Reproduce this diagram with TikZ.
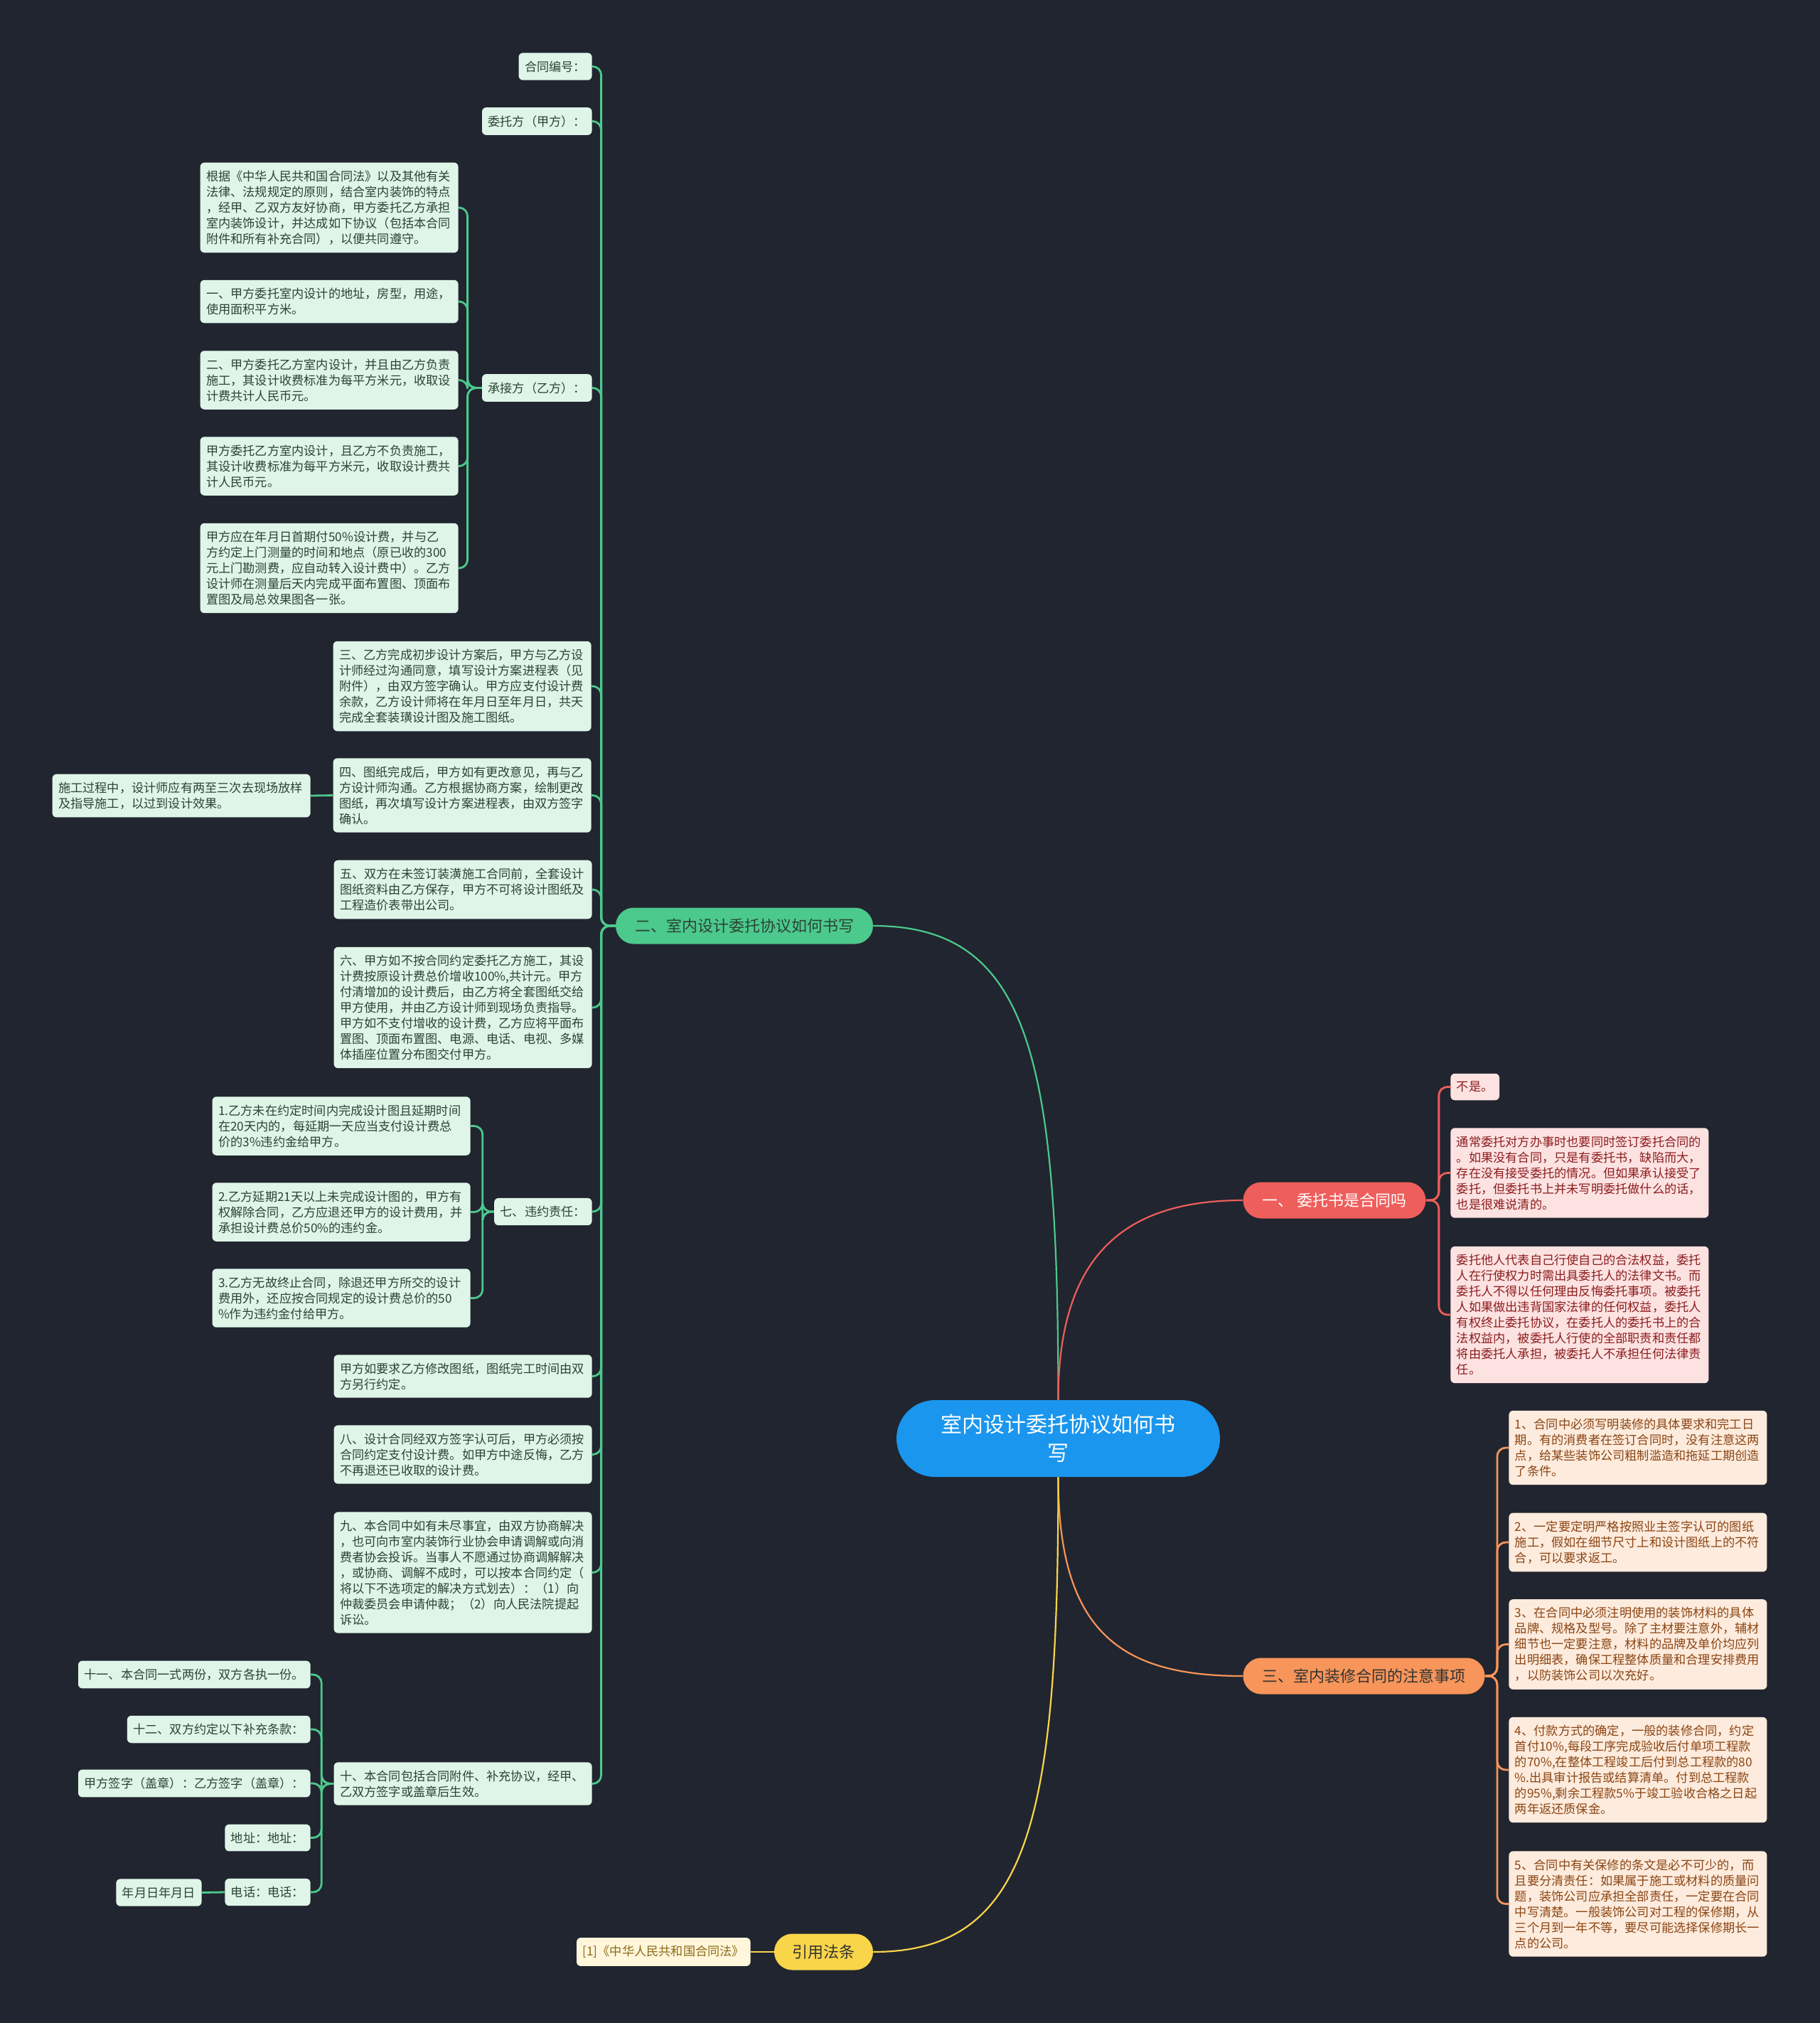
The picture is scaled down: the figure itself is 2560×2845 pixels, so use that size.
\documentclass[tikz,border=0pt]{standalone}
\usepackage{fontspec}
\setmainfont{Noto Sans CJK SC}
\usetikzlibrary{positioning}
\definecolor{bgdark}{HTML}{21252F}
\definecolor{rootblue}{HTML}{1A96EE}
\definecolor{mgreen}{HTML}{4CC98C}
\definecolor{mgreenbg}{HTML}{DFF5E8}
\definecolor{mgreentx}{HTML}{2A4436}
\definecolor{mred}{HTML}{EE5E5B}
\definecolor{mredbg}{HTML}{FDE2E2}
\definecolor{mredtx}{HTML}{8C1D1D}
\definecolor{morange}{HTML}{F7955A}
\definecolor{morangebg}{HTML}{FDEBDD}
\definecolor{morangetx}{HTML}{8B4513}
\definecolor{myellow}{HTML}{F9D54A}
\definecolor{myellowbg}{HTML}{FFF6DC}
\definecolor{myellowtx}{HTML}{8D6A14}
\newcommand\leaffont{\fontsize{8.6}{11}\selectfont}
\tikzset{
  rootnode/.style={fill=rootblue,text=white,rounded corners=27pt,minimum width=227.5pt,
    minimum height=54pt,text width=170pt,align=center,font=\fontsize{15}{20}\selectfont},
  brnode/.style={rounded corners=12.75pt,minimum height=25.5pt,inner xsep=13.5pt,
    font=\fontsize{11}{13}\selectfont},
  brgreen/.style={brnode,fill=mgreen,text=mgreentx},
  brred/.style={brnode,fill=mred,text=white},
  brorange/.style={brnode,fill=morange,text=black!80},
  bryellow/.style={brnode,fill=myellow,text=black!80,inner xsep=12.75pt},
  leaf/.style={rounded corners=3pt,inner xsep=4.25pt,inner ysep=5.6pt,font=\leaffont,align=left},
  wide/.style={text width=173pt},
  gleaf/.style={leaf,fill=mgreenbg,text=mgreentx},
  rleaf/.style={leaf,fill=mredbg,text=mredtx},
  oleaf/.style={leaf,fill=morangebg,text=morangetx},
  yleaf/.style={leaf,fill=myellowbg,text=myellowtx},
  mainlink/.style={line width=1.1pt},
  bracket/.style={line width=1.4pt,rounded corners=6pt},
  glink/.style={bracket,mgreen},
  rlink/.style={bracket,mred},
  olink/.style={bracket,morange},
  ylink/.style={bracket,myellow},
}
\begin{document}
\begin{tikzpicture}[x=0.5pt,y=-0.5pt]
  \fill[bgdark] (0,0) rectangle (2560,2845);
  % centre and main branches
  \node[rootnode] (root) at (1488.5,2023) {室内设计委托协议如何书\\写};
  \node[brgreen] (B2) at (1047,1302) {二、室内设计委托协议如何书写};
  \node[brred] (B1) at (1877,1688) {一、 委托书是合同吗};
  \node[brorange] (B3) at (1918.5,2357) {三、室内装修合同的注意事项};
  \node[bryellow] (B4) at (1158.5,2745) {引用法条};
  \draw[mainlink,mgreen] (root.north) .. controls +(0,-480) and +(220,0) .. (B2.east);
  \draw[mainlink,mred] (root.north) .. controls +(0,-200) and +(-170,0) .. (B1.west);
  \draw[mainlink,morange] (root.south) .. controls +(0,220) and +(-170,0) .. (B3.west);
  \draw[mainlink,myellow] (root.south) .. controls +(0,480) and +(220,0) .. (B4.east);

  % green branch
  \node[gleaf,anchor=east] (gA) at (833,93.5) {合同编号：};
  \node[gleaf,anchor=east] (gB) at (833,170.5) {委托方（甲方）：};
  \node[gleaf,anchor=east] (gC) at (833,545.5) {承接方（乙方）：};
  \node[gleaf,wide,anchor=east] (gD) at (832,965) {三、乙方完成初步设计方案后，甲方与乙方设\\计师经过沟通同意，填写设计方案进程表（见\\附件），由双方签字确认。甲方应支付设计费\\余款，乙方设计师将在年月日至年月日，共天\\完成全套装璜设计图及施工图纸。};
  \node[gleaf,wide,anchor=east] (gE) at (832,1118.5) {四、图纸完成后，甲方如有更改意见，再与乙\\方设计师沟通。乙方根据协商方案，绘制更改\\图纸，再次填写设计方案进程表，由双方签字\\确认。};
  \node[gleaf,wide,anchor=east] (gF) at (833,1251) {五、双方在未签订装潢施工合同前，全套设计\\图纸资料由乙方保存，甲方不可将设计图纸及\\工程造价表带出公司。};
  \node[gleaf,wide,anchor=east] (gG) at (833,1417) {六、甲方如不按合同约定委托乙方施工，其设\\计费按原设计费总价增收100\%,共计元。甲方\\付清增加的设计费后，由乙方将全套图纸交给\\甲方使用，并由乙方设计师到现场负责指导。\\甲方如不支付增收的设计费，乙方应将平面布\\置图、顶面布置图、电源、电话、电视、多媒\\体插座位置分布图交付甲方。};
  \node[gleaf,anchor=east] (gH) at (833,1704) {七、违约责任：};
  \node[gleaf,wide,anchor=east] (gI) at (833,1935.5) {甲方如要求乙方修改图纸，图纸完工时间由双\\方另行约定。};
  \node[gleaf,wide,anchor=east] (gJ) at (833,2045.5) {八、设计合同经双方签字认可后，甲方必须按\\合同约定支付设计费。如甲方中途反悔，乙方\\不再退还已收取的设计费。};
  \node[gleaf,wide,anchor=east] (gK) at (833,2211.5) {九、本合同中如有未尽事宜，由双方协商解决\\，也可向市室内装饰行业协会申请调解或向消\\费者协会投诉。当事人不愿通过协商调解解决\\，或协商、调解不成时，可以按本合同约定（\\将以下不选项定的解决方式划去）：（1）向\\仲裁委员会申请仲裁；（2）向人民法院提起\\诉讼。};
  \node[gleaf,wide,anchor=east] (gL) at (833,2508.5) {十、本合同包括合同附件、补充协议，经甲、\\乙双方签字或盖章后生效。};
  \foreach \k in {gA,gB,gC,gD,gE,gF,gG,gH,gI,gJ,gK,gL}
    \draw[glink] (B2.west) -- ++(-20,0) |- (\k.east);

  % under 承接方
  \node[gleaf,wide,anchor=east] (gC1) at (645,292) {根据《中华人民共和国合同法》以及其他有关\\法律、法规规定的原则，结合室内装饰的特点\\，经甲、乙双方友好协商，甲方委托乙方承担\\室内装饰设计，并达成如下协议（包括本合同\\附件和所有补充合同），以便共同遵守。};
  \node[gleaf,wide,anchor=east] (gC2) at (645,424) {一、甲方委托室内设计的地址，房型，用途，\\使用面积平方米。};
  \node[gleaf,wide,anchor=east] (gC3) at (645,534.5) {二、甲方委托乙方室内设计，并且由乙方负责\\施工，其设计收费标准为每平方米元，收取设\\计费共计人民币元。};
  \node[gleaf,wide,anchor=east] (gC4) at (645,655.5) {甲方委托乙方室内设计，且乙方不负责施工，\\其设计收费标准为每平方米元，收取设计费共\\计人民币元。};
  \node[gleaf,wide,anchor=east] (gC5) at (645,799) {甲方应在年月日首期付50\%设计费，并与乙\\方约定上门测量的时间和地点（原已收的300\\元上门勘测费，应自动转入设计费中）。乙方\\设计师在测量后天内完成平面布置图、顶面布\\置图及局总效果图各一张。};
  \foreach \k in {gC1,gC2,gC3,gC4,gC5}
    \draw[glink] (gC.west) -- ++(-20,0) |- (\k.east);

  % under 四
  \node[gleaf,wide,anchor=east] (gE1) at (437,1119) {施工过程中，设计师应有两至三次去现场放样\\及指导施工，以过到设计效果。};
  \draw[glink] (gE.west) -- (gE1.east);

  % under 七
  \node[gleaf,wide,anchor=east] (gH1) at (662,1583.5) {1.乙方未在约定时间内完成设计图且延期时间\\在20天内的，每延期一天应当支付设计费总\\价的3\%违约金给甲方。};
  \node[gleaf,wide,anchor=east] (gH2) at (662,1704.5) {2.乙方延期21天以上未完成设计图的，甲方有\\权解除合同，乙方应退还甲方的设计费用，并\\承担设计费总价50\%的违约金。};
  \node[gleaf,wide,anchor=east] (gH3) at (662,1825.5) {3.乙方无故终止合同，除退还甲方所交的设计\\费用外，还应按合同规定的设计费总价的50\\\%作为违约金付给甲方。};
  \foreach \k in {gH1,gH2,gH3}
    \draw[glink] (gH.west) -- ++(-16,0) |- (\k.east);

  % under 十
  \node[gleaf,anchor=east] (gL1) at (437,2355) {十一、本合同一式两份，双方各执一份。};
  \node[gleaf,anchor=east] (gL2) at (437,2432) {十二、双方约定以下补充条款：};
  \node[gleaf,anchor=east] (gL3) at (437,2508) {甲方签字（盖章）：乙方签字（盖章）：};
  \node[gleaf,anchor=east] (gL4) at (437,2584.5) {地址：地址：};
  \node[gleaf,anchor=east] (gL5) at (437,2661) {电话：电话：};
  \node[gleaf,anchor=east] (gL6) at (284,2661.5) {年月日年月日};
  \foreach \k in {gL1,gL2,gL3,gL4,gL5}
    \draw[glink] (gL.west) -- ++(-17,0) |- (\k.east);
  \draw[glink] (gL5.west) -- (gL6.east);

  % red branch
  \node[rleaf,anchor=west] (r1) at (2040,1528.5) {不是。};
  \node[rleaf,wide,anchor=west] (r2) at (2040,1649.5) {通常委托对方办事时也要同时签订委托合同的\\。如果没有合同，只是有委托书，缺陷而大，\\存在没有接受委托的情况。但如果承认接受了\\委托，但委托书上并未写明委托做什么的话，\\也是很难说清的。};
  \node[rleaf,wide,anchor=west] (r3) at (2040,1849) {委托他人代表自己行使自己的合法权益，委托\\人在行使权力时需出具委托人的法律文书。而\\委托人不得以任何理由反悔委托事项。被委托\\人如果做出违背国家法律的任何权益，委托人\\有权终止委托协议，在委托人的委托书上的合\\法权益内，被委托人行使的全部职责和责任都\\将由委托人承担，被委托人不承担任何法律责\\任。};
  \foreach \k in {r1,r2,r3}
    \draw[rlink] (B1.east) -- ++(18,0) |- (\k.west);

  % orange branch
  \node[oleaf,wide,anchor=west] (o1) at (2122,2036) {1、合同中必须写明装修的具体要求和完工日\\期。有的消费者在签订合同时，没有注意这两\\点，给某些装饰公司粗制滥造和拖延工期创造\\了条件。};
  \node[oleaf,wide,anchor=west] (o2) at (2122,2169) {2、一定要定明严格按照业主签字认可的图纸\\施工，假如在细节尺寸上和设计图纸上的不符\\合，可以要求返工。};
  \node[oleaf,wide,anchor=west] (o3) at (2122,2312.5) {3、在合同中必须注明使用的装饰材料的具体\\品牌、规格及型号。除了主材要注意外，辅材\\细节也一定要注意，材料的品牌及单价均应列\\出明细表，确保工程整体质量和合理安排费用\\，以防装饰公司以次充好。};
  \node[oleaf,wide,anchor=west] (o4) at (2122,2489) {4、付款方式的确定，一般的装修合同，约定\\首付10\%,每段工序完成验收后付单项工程款\\的70\%,在整体工程竣工后付到总工程款的80\\\%.出具审计报告或结算清单。付到总工程款\\的95\%,剩余工程款5\%于竣工验收合格之日起\\两年返还质保金。};
  \node[oleaf,wide,anchor=west] (o5) at (2122,2677.5) {5、合同中有关保修的条文是必不可少的，而\\且要分清责任：如果属于施工或材料的质量问\\题，装饰公司应承担全部责任，一定要在合同\\中写清楚。一般装饰公司对工程的保修期，从\\三个月到一年不等，要尽可能选择保修期长一\\点的公司。};
  \foreach \k in {o1,o2,o3,o4,o5}
    \draw[olink] (B3.east) -- ++(17,0) |- (\k.west);

  % yellow branch
  \node[yleaf,anchor=east] (y1) at (1056,2745) {[1]《中华人民共和国合同法》};
  \draw[ylink] (B4.west) -- (y1.east);
\end{tikzpicture}
\end{document}
